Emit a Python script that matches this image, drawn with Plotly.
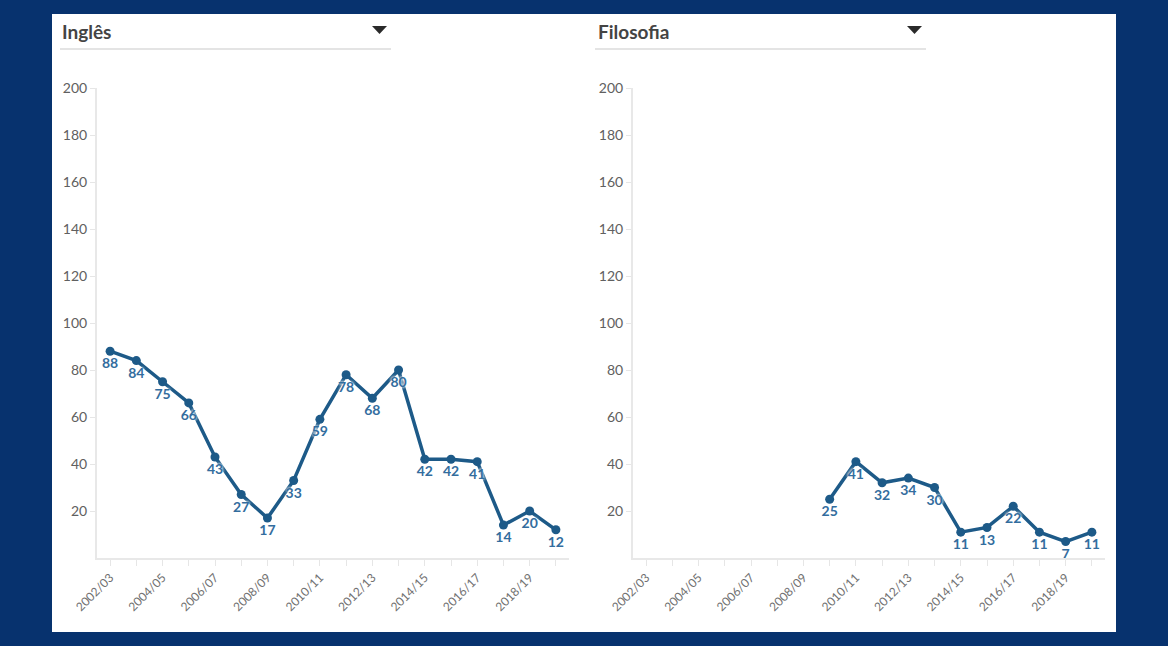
import plotly.graph_objects as go

W, H = 1168, 646

categories = ["2002/03", "2003/04", "2004/05", "2005/06", "2006/07", "2007/08",
              "2008/09", "2009/10", "2010/11", "2011/12", "2012/13", "2013/14",
              "2014/15", "2015/16", "2016/17", "2017/18", "2018/19", "2019/20"]
ingles = [88, 84, 75, 66, 43, 27, 17, 33, 59, 78, 68, 80, 42, 42, 41, 14, 20, 12]
filosofia_cats = categories[7:]
filosofia = [25, 41, 32, 34, 30, 11, 13, 22, 11, 7, 11]
yticks = [20, 40, 60, 80, 100, 120, 140, 160, 180, 200]
panel_titles = ["Inglês", "Filosofia"]

LINE = "#1d5a88"
LABEL = "#336d9e"
FONT = "Lato"

def px(x):
    return x / W

def py(y):
    return 1 - y / H

fig = go.Figure()

for i, (xs, ys) in enumerate([(categories, ingles), (filosofia_cats, filosofia)]):
    suffix = "" if i == 0 else "2"
    fig.add_trace(go.Scatter(
        x=xs, y=ys, mode="lines+markers+text",
        text=[str(v) for v in ys], textposition="bottom center",
        textfont=dict(family=FONT, size=14, color=LABEL, weight="bold",
                      shadow="0px 0px 3px white, 0px 0px 3px white"),
        line=dict(color=LINE, width=3.5),
        marker=dict(color=LINE, size=9),
        xaxis="x" + suffix, yaxis="y" + suffix, showlegend=False,
        cliponaxis=False, hoverinfo="x+y",
    ))

ticktext = [c if k % 2 == 0 else "" for k, c in enumerate(categories)]
xcommon = dict(type="category", categoryorder="array", categoryarray=categories,
               range=[-0.5, 17.5], tickvals=categories, ticktext=ticktext,
               tickangle=-45, ticks="outside", ticklen=6, tickcolor="#e6e6e6",
               tickfont=dict(family=FONT, size=12, color="#707070"),
               showgrid=False, showline=True, linecolor="#e8e8e8", linewidth=2,
               zeroline=False, fixedrange=True, automargin=False)
ycommon = dict(range=[0, 200], tickvals=yticks, ticks="outside", ticklen=5,
               tickcolor="#e6e6e6", tickfont=dict(family=FONT, size=14, color="#606060"),
               showgrid=False, showline=True, linecolor="#e8e8e8", linewidth=2,
               zeroline=False, fixedrange=True, automargin=False)

fig.update_layout(
    width=W, height=H, autosize=False,
    margin=dict(l=0, r=0, t=0, b=0, pad=0, autoexpand=False),
    paper_bgcolor="#07326e",
    plot_bgcolor="rgba(0,0,0,0)",
    xaxis=dict(domain=[px(97), px(569)], anchor="y", **xcommon),
    yaxis=dict(domain=[py(558), py(88)], anchor="x", **ycommon),
    xaxis2=dict(domain=[px(633), px(1105)], anchor="y2", **xcommon),
    yaxis2=dict(domain=[py(558), py(88)], anchor="x2", **ycommon),
    shapes=[
        dict(type="rect", xref="paper", yref="paper", x0=px(52), x1=px(1116),
             y0=py(632), y1=py(14), fillcolor="white", line=dict(width=0), layer="below"),
        dict(type="line", xref="paper", yref="paper", x0=px(60), x1=px(391),
             y0=py(49), y1=py(49), line=dict(color="#e4e4e4", width=2)),
        dict(type="line", xref="paper", yref="paper", x0=px(595), x1=px(926),
             y0=py(49), y1=py(49), line=dict(color="#e4e4e4", width=2)),
        # dropdown arrows
        dict(type="path", xref="paper", yref="paper",
             path=f"M {px(372)} {py(26)} L {px(387)} {py(26)} L {px(379.5)} {py(34)} Z",
             fillcolor="#2a2a2a", line=dict(width=0)),
        dict(type="path", xref="paper", yref="paper",
             path=f"M {px(907)} {py(26)} L {px(922)} {py(26)} L {px(914.5)} {py(34)} Z",
             fillcolor="#2a2a2a", line=dict(width=0)),
    ],
    annotations=[
        dict(text=panel_titles[0], xref="paper", yref="paper", x=px(60), y=py(31),
             xanchor="left", yanchor="middle", showarrow=False,
             font=dict(family=FONT, size=19, color="#444", weight="bold")),
        dict(text=panel_titles[1], xref="paper", yref="paper", x=px(596), y=py(31),
             xanchor="left", yanchor="middle", showarrow=False,
             font=dict(family=FONT, size=19, color="#444", weight="bold")),
    ],
)

fig.write_html(
    "out.html",
    config={"displayModeBar": False, "responsive": False},
    post_script="document.body.style.margin='0';document.body.style.overflow='hidden';",
)
